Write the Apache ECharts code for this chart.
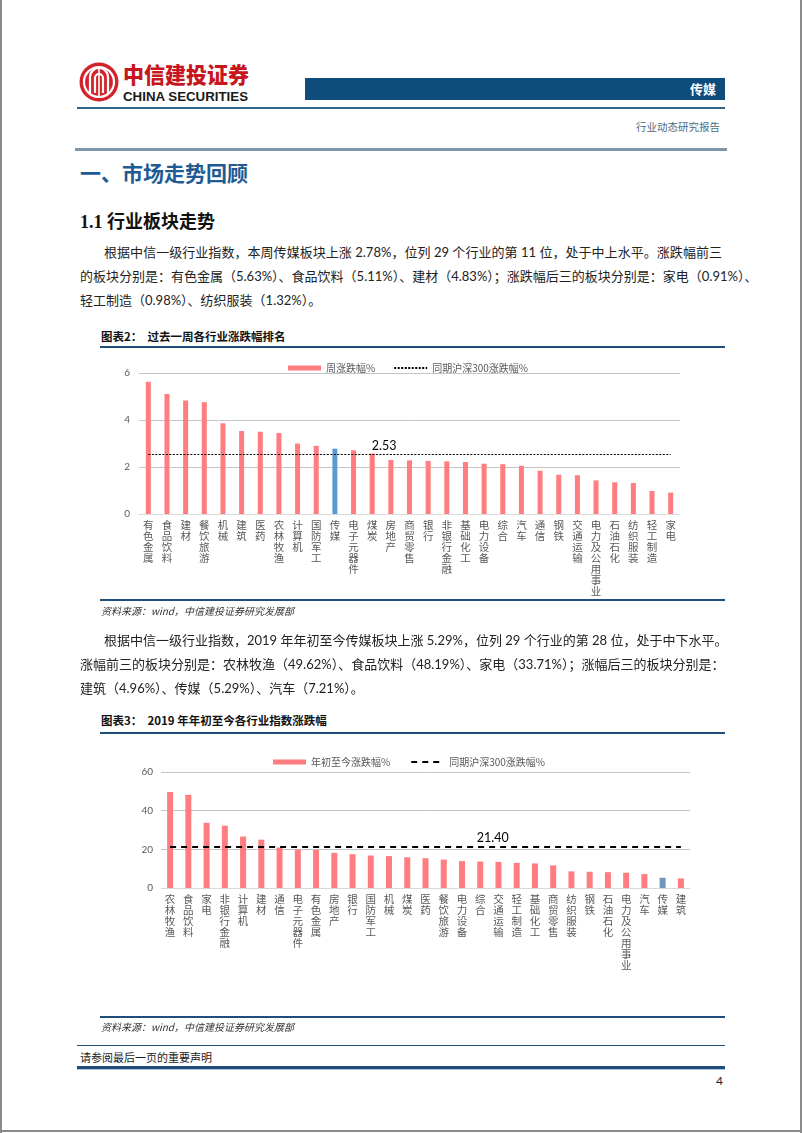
<!DOCTYPE html>
<html><head><meta charset="utf-8">
<script src="https://cdn.jsdelivr.net/npm/echarts@6/dist/echarts.min.js"></script>
<style>
html,body{margin:0;padding:0;background:#fff;}
body{width:802px;height:1133px;position:relative;overflow:hidden;font-family:Lato,"Noto Sans CJK SC",sans-serif;color:#222;}
.abs{position:absolute;white-space:nowrap;}
.p{position:absolute;left:80px;width:642px;font-size:13px;line-height:24px;color:#222;}
.p div{text-align:justify;text-align-last:justify;white-space:nowrap;}
.p div.last{text-align-last:left;}
.ttl{position:absolute;left:101px;font-size:11.5px;font-weight:bold;color:#111;font-family:"Noto Sans CJK SC",sans-serif;}
.hl{position:absolute;height:2px;background:#1f4e79;}
.src{position:absolute;left:101px;font-size:10px;font-style:italic;color:#333;font-family:"Noto Sans CJK SC",serif;}
</style></head>
<body>
<!-- page frame -->
<div class="abs" style="left:0;top:0;width:2px;height:1133px;background:#8a8a8a"></div>
<div class="abs" style="left:800px;top:0;width:2px;height:1133px;background:#8a8a8a"></div>
<div class="abs" style="left:0;top:1130px;width:802px;height:2px;background:#8a8a8a"></div>

<!-- header -->
<svg class="abs" style="left:76px;top:60px" width="180" height="46">
  <circle cx="23" cy="22" r="19.5" fill="#d2232a"/>
  <circle cx="23" cy="22" r="15" fill="none" stroke="#fff" stroke-width="2.2"/>
  <path d="M14 33 V17 A9 9 0 0 1 32 17 V33" fill="none" stroke="#fff" stroke-width="2.2"/>
  <path d="M19 33 V18 A4 4 0 0 1 27 18 V33" fill="none" stroke="#fff" stroke-width="2.2"/>
  <line x1="23" y1="8" x2="23" y2="36" stroke="#fff" stroke-width="1.6"/>
  <text x="47" y="23" font-family="Noto Sans CJK SC" font-weight="900" font-size="21.5" fill="#c8161e" textLength="126" lengthAdjust="spacingAndGlyphs">中信建投证券</text>
  <text x="47" y="41" font-family="Liberation Sans" font-weight="bold" font-size="13" fill="#1a1a1a" textLength="125" lengthAdjust="spacingAndGlyphs">CHINA SECURITIES</text>
</svg>
<div class="abs" style="left:305px;top:78px;width:420px;height:22px;background:#0e4c7b"></div>
<div class="abs" style="left:690px;top:80px;width:32px;font-size:13px;font-weight:bold;color:#fff;line-height:18px;font-family:'Noto Sans CJK SC'">传媒</div>
<div class="abs" style="left:77px;top:107px;width:648px;height:2px;background:#2f6388"></div>
<div class="abs" style="left:636px;top:119px;font-size:10.5px;color:#4b6a80;line-height:16px;font-family:'Noto Sans CJK SC'">行业动态研究报告</div>
<div class="abs" style="left:75px;top:148px;width:652px;height:3px;background:#7d97a9"></div>

<div class="abs" style="left:80px;top:158px;font-size:21px;line-height:28px;font-weight:bold;color:#1f5b92;font-family:'Noto Sans CJK SC'">一、市场走势回顾</div>
<div class="abs" style="left:80px;top:210px;font-size:18px;line-height:24px;font-weight:bold;color:#111;font-family:'Liberation Serif','Noto Sans CJK SC'">1.1 行业板块走势</div>

<div class="p" style="top:240px">
  <div style="padding-left:24px">根据中信一级行业指数，本周传媒板块上涨 2.78%，位列 29 个行业的第 11 位，处于中上水平。涨跌幅前三</div>
  <div>的板块分别是：有色金属（5.63%）、食品饮料（5.11%）、建材（4.83%）；涨跌幅后三的板块分别是：家电（0.91%）、</div>
  <div class="last">轻工制造（0.98%）、纺织服装（1.32%）。</div>
</div>

<div class="ttl" style="top:328px;line-height:17px">图表2：&nbsp;&nbsp;过去一周各行业涨跌幅排名</div>
<div class="hl" style="left:100px;top:346px;width:625px"></div>
<div id="c1" class="abs" style="left:100px;top:350px;width:625px;height:250px"></div>
<div class="hl" style="left:100px;top:599px;width:625px;height:1.5px"></div>
<div class="src" style="top:604px;line-height:14px">资料来源：wind，中信建投证券研究发展部</div>

<div class="p" style="top:628px">
  <div style="padding-left:24px">根据中信一级行业指数，2019 年年初至今传媒板块上涨 5.29%，位列 29 个行业的第 28 位，处于中下水平。</div>
  <div>涨幅前三的板块分别是：农林牧渔（49.62%）、食品饮料（48.19%）、家电（33.71%）；涨幅后三的板块分别是：</div>
  <div class="last">建筑（4.96%）、传媒（5.29%）、汽车（7.21%）。</div>
</div>

<div class="ttl" style="top:712px;line-height:17px">图表3：&nbsp;&nbsp;2019 年年初至今各行业指数涨跌幅</div>
<div class="hl" style="left:100px;top:732px;width:625px"></div>
<div id="c2" class="abs" style="left:100px;top:737px;width:625px;height:280px"></div>
<div class="hl" style="left:100px;top:1016px;width:625px;height:1.5px"></div>
<div class="src" style="top:1020px;line-height:14px">资料来源：wind，中信建投证券研究发展部</div>

<!-- footer -->
<div class="abs" style="left:77px;top:1045px;width:648px;height:1px;background:#1f4e79"></div>
<div class="abs" style="left:80px;top:1049px;font-size:11px;line-height:16px;color:#222;font-family:'Noto Sans CJK SC'">请参阅最后一页的重要声明</div>
<div class="abs" style="left:77px;top:1066px;width:648px;height:3px;background:#1f4e79"></div>
<div class="abs" style="left:77px;top:1069px;width:648px;height:1px;background:#a9c6dd"></div>
<div class="abs" style="left:716px;top:1073px;font-size:12px;line-height:16px;color:#222">4</div>

<script>
// ---- Chart 1 data: weekly change (%) ----
var weekCats = ['有色金属','食品饮料','建材','餐饮旅游','机械','建筑','医药','农林牧渔','计算机','国防军工','传媒','电子元器件','煤炭','房地产','商贸零售','银行','非银行金融','基础化工','电力设备','综合','汽车','通信','钢铁','交通运输','电力及公用事业','石油石化','纺织服装','轻工制造','家电'];
var weekVals = [5.63,5.11,4.83,4.76,3.86,3.53,3.50,3.45,3.00,2.90,2.78,2.71,2.57,2.30,2.28,2.26,2.24,2.21,2.14,2.12,2.05,1.84,1.67,1.65,1.43,1.35,1.32,0.98,0.91];
var weekHS300 = 2.53;
var weekTicks = [0,2,4,6];

// ---- Chart 2 data: YTD change (%) ----
var ytdCats = ['农林牧渔','食品饮料','家电','非银行金融','计算机','建材','通信','电子元器件','有色金属','房地产','银行','国防军工','机械','煤炭','医药','餐饮旅游','电力设备','综合','交通运输','轻工制造','基础化工','商贸零售','纺织服装','钢铁','石油石化','电力及公用事业','汽车','传媒','建筑'];
var ytdVals = [49.62,48.19,33.71,32.2,26.6,25.0,20.9,19.9,19.7,18.2,17.5,16.8,16.5,15.9,15.4,14.7,13.9,13.7,13.5,13.0,12.7,11.7,8.6,8.4,8.2,7.9,7.21,5.29,4.96];
var ytdHS300 = 21.40;
var ytdTicks = [0,20,40,60];

var HIGHLIGHT = '传媒';
var PINK = '#ff7c80';

function vert(s){ return String(s).split('').join('\n'); }
function barData(cats, vals, hc){
  return vals.map(function(v,i){ return cats[i]===HIGHLIGHT ? {value:v, itemStyle:{color:hc}} : v; });
}
var axisTxt = {color:'#595959', fontFamily:'"Noto Sans CJK SC"'};

function makeOpt(cfg){
  return {
    animation:false,
    legend:{
      top:cfg.legendTop, left:cfg.legendLeft, itemGap:cfg.legendGap, itemWidth:33, itemHeight:5,
      textStyle:{color:'#595959', fontSize:10, fontFamily:'"Noto Sans CJK SC"'},
      data:[{name:cfg.barName, icon:'rect'},{name:cfg.lineName, itemStyle:{opacity:0}}]
    },
    grid:{left:cfg.gl, right:cfg.gr, top:cfg.gt, bottom:cfg.gb, containLabel:false},
    xAxis:{
      type:'category', data:cfg.cats,
      axisLine:{lineStyle:{color:'#d9d9d9'}}, axisTick:{show:false},
      axisLabel:Object.assign({interval:0, fontSize:10.5, lineHeight:11, margin:6, width:11, overflow:'break', hideOverlap:false, formatter:vert}, axisTxt)
    },
    yAxis:{
      type:'value', min:cfg.ticks[0], max:cfg.ticks[cfg.ticks.length-1], interval:cfg.ticks[1]-cfg.ticks[0],
      axisLine:{show:false}, axisTick:{show:false},
      axisLabel:Object.assign({fontSize:10, margin:cfg.ym}, axisTxt, {fontFamily:'Lato'}),
      splitLine:{lineStyle:{color:'#c4c4c4', width:1}}
    },
    series:[
      {type:'bar', name:cfg.barName, data:barData(cfg.cats, cfg.vals, cfg.hc), barWidth:cfg.bw, itemStyle:{color:PINK}},
      {type:'line', name:cfg.lineName, data:[], symbol:'none', lineStyle:cfg.ls, itemStyle:{color:'#000'},
       markLine:{silent:true, symbol:'none', label:{show:false}, lineStyle:cfg.ls,
         data:[[{coord:[cfg.cats[0], cfg.hs]},{coord:[cfg.cats[cfg.cats.length-1], cfg.hs]}]]},
       markPoint:{silent:true, symbol:'circle', symbolSize:1, itemStyle:{color:'rgba(0,0,0,0)'},
         label:{show:true, position:[cfg.lblDx,-15], color:'#000', fontSize:12.5, fontFamily:'Lato', formatter:function(){return cfg.hs.toFixed(2);}},
         data:[{coord:[cfg.cats[cfg.lblIdx], cfg.hs]}]}
      }
    ]
  };
}

var c1 = echarts.init(document.getElementById('c1'));
c1.setOption(makeOpt({
  cats:weekCats, vals:weekVals, hs:weekHS300, ticks:weekTicks, hc:'#5b9bd5',
  barName:'周涨跌幅%', lineName:'同期沪深300涨跌幅%',
  legendTop:8, legendLeft:183, legendGap:18,
  gl:39, gr:45, gt:23, gb:86, ym:9, bw:5,
  ls:{color:'#000', width:1, type:[2,1.5]}, lblIdx:12, lblDx:0
}));

var c2 = echarts.init(document.getElementById('c2'));
c2.setOption(makeOpt({
  cats:ytdCats, vals:ytdVals, hs:ytdHS300, ticks:ytdTicks, hc:'#6f97bd',
  barName:'年初至今涨跌幅%', lineName:'同期沪深300涨跌幅%',
  legendTop:15, legendLeft:168, legendGap:20,
  gl:61, gr:35, gt:35, gb:129, ym:8, bw:6,
  ls:{color:'#000', width:2.2, type:[6,5]}, lblIdx:17, lblDx:-3
}));
</script>
</body></html>
